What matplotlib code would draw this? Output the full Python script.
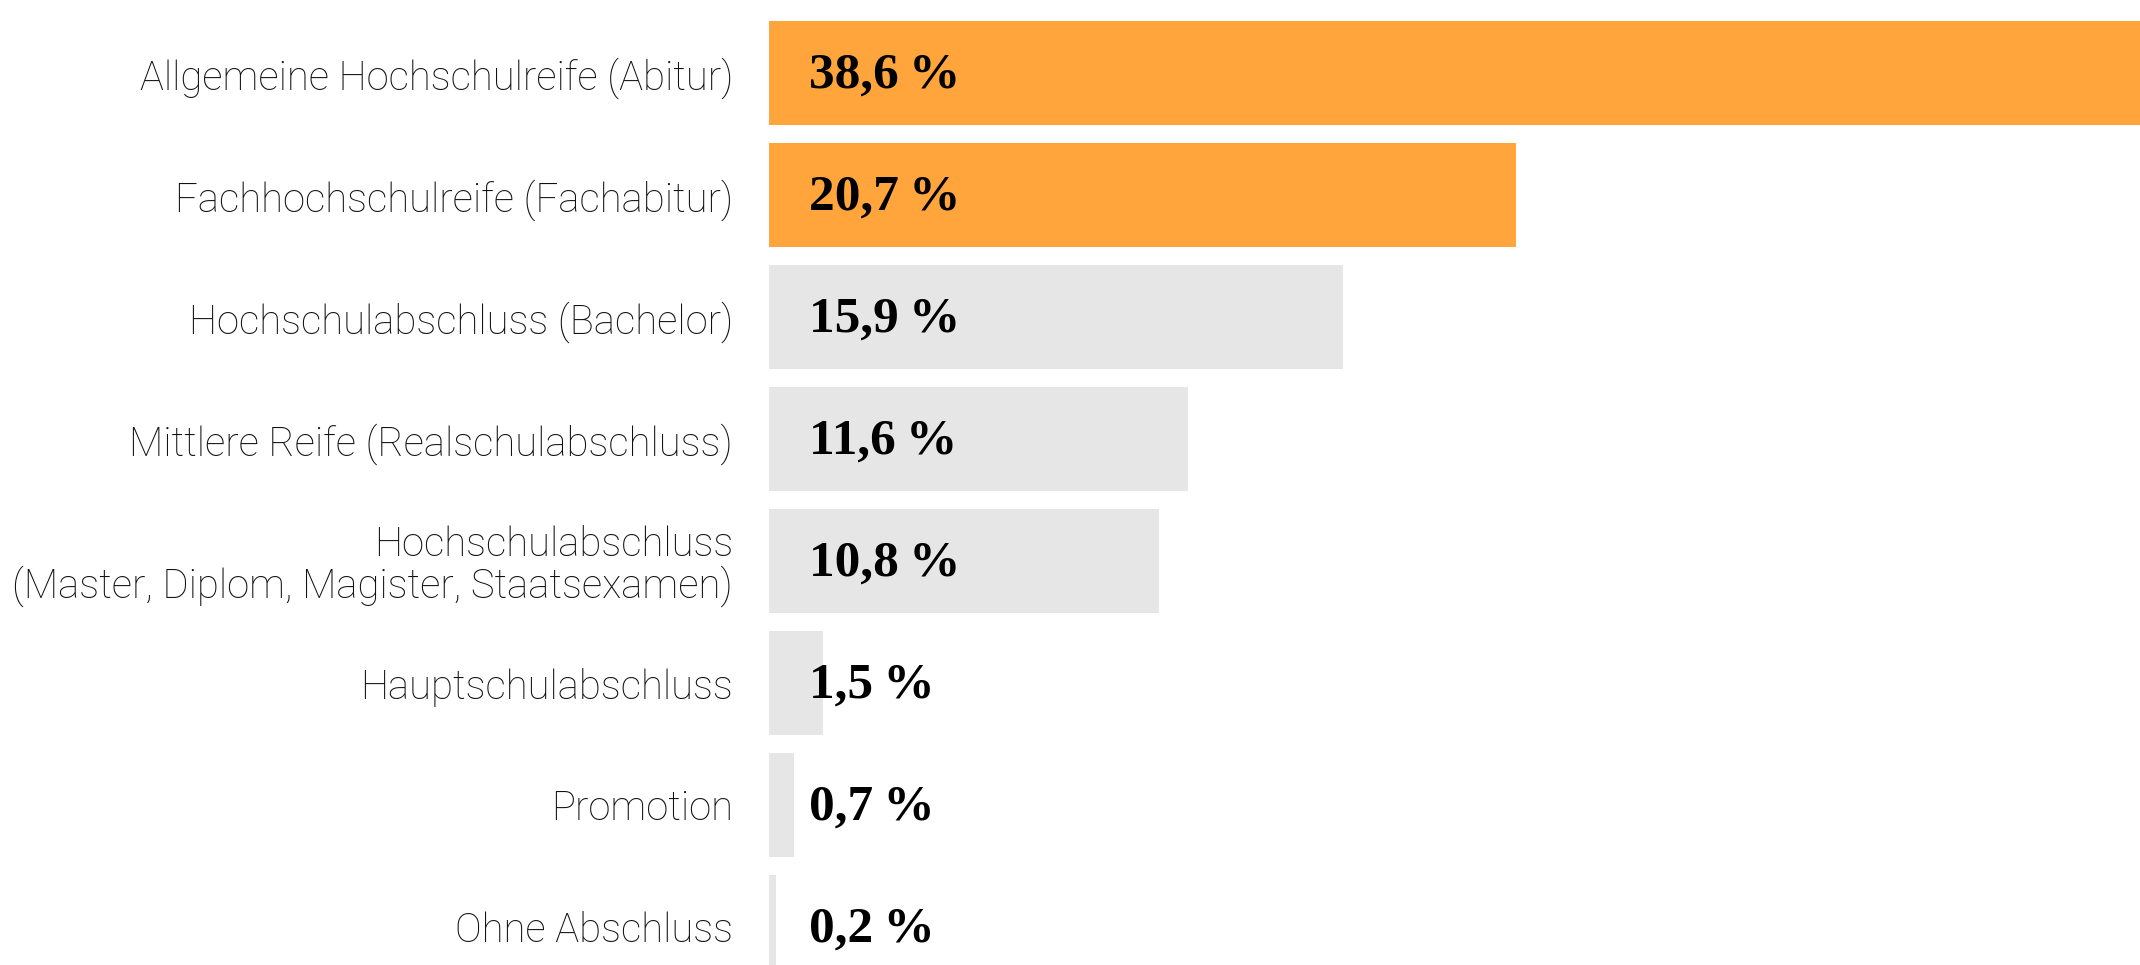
import matplotlib
matplotlib.use("Agg")
import matplotlib.pyplot as plt

# Schulabschluss-Verteilung
categories = [
    "Allgemeine Hochschulreife (Abitur)",
    "Fachhochschulreife (Fachabitur)",
    "Hochschulabschluss (Bachelor)",
    "Mittlere Reife (Realschulabschluss)",
    "Hochschulabschluss\n(Master, Diplom, Magister, Staatsexamen)",
    "Hauptschulabschluss",
    "Promotion",
    "Ohne Abschluss",
]
values = [38.6, 20.7, 15.9, 11.6, 10.8, 1.5, 0.7, 0.2]
highlight = [True, True, False, False, False, False, False, False]

ORANGE = "#FFA53C"
GREY = "#E6E6E6"

fig = plt.figure(figsize=(21.4, 9.65), dpi=100)
ax = fig.add_axes([769 / 2140, 0, 1 - 769 / 2140, 1])

y = list(range(len(categories)))
colors = [ORANGE if h else GREY for h in highlight]
ax.barh(y, values, height=104 / 122, color=colors, linewidth=0)

ax.set_xlim(0, 37.98)
ax.set_ylim(7.311, -0.598)

for yi, v in zip(y, values):
    txt = f"{v:.1f}".replace(".", ",") + "\u2009%"
    ax.text(1.1, yi + 0.02, txt, ha="left", va="center",
            fontsize=37, fontweight="bold", family="Liberation Serif",
            color="black")

ax.set_yticks(y)
ax.set_yticklabels(categories, family="Roboto", fontweight="light",
                   fontsize=28.8, color="#111111", linespacing=1.05)
ax.tick_params(axis="y", length=0, pad=26)
ax.set_xticks([])
for s in ax.spines.values():
    s.set_visible(False)

fig.savefig("out.png", dpi=100)
